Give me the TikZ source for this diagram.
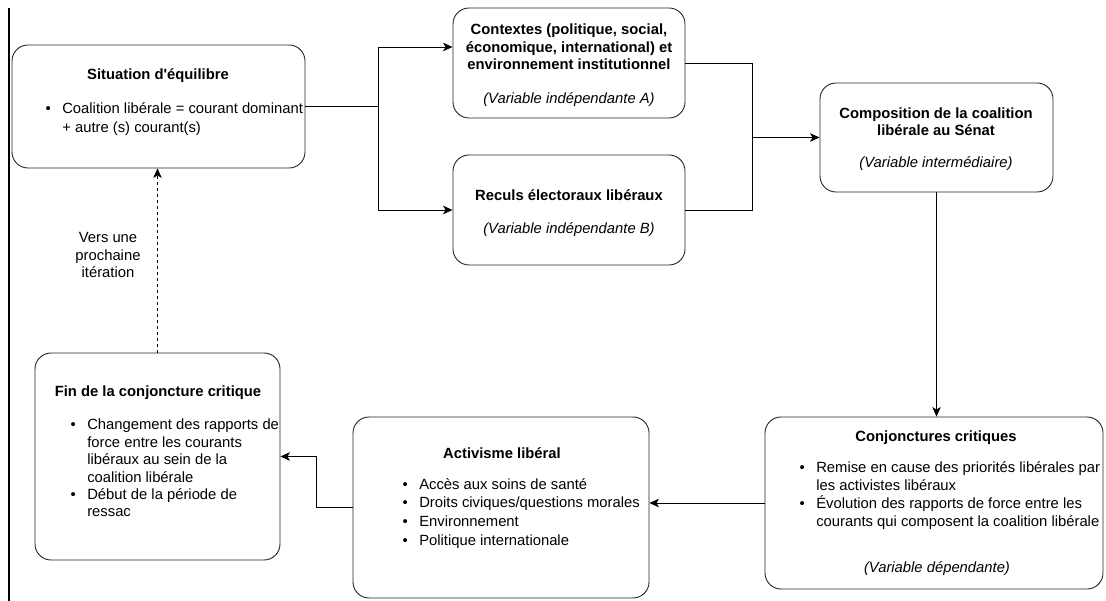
\documentclass[tikz,border=0pt]{standalone}
\usepackage{fontspec}
\setmainfont{Liberation Sans}
\usetikzlibrary{arrows.meta}

% puces des listes
\newcommand{\puce}{\makebox[16.6pt][l]{\textbullet}}
\newcommand{\suite}{\hspace*{16.6pt}}

\begin{document}
\begin{tikzpicture}[x=1pt,y=-1pt,
    boite/.style={draw=black!85, line width=0.9pt, rounded corners=16pt, inner sep=0pt},
    titre/.style={font=\fontsize{14.8}{17.5}\selectfont\bfseries, align=center, inner sep=0pt},
    typevar/.style={font=\fontsize{14.8}{17.5}\selectfont\itshape, inner sep=0pt},
    liste/.style={font=\fontsize{14.8}{#1}\selectfont, align=left, anchor=north west, inner sep=0pt},
    liste/.default=18,
    lien/.style={line width=0.9pt},
    fleche/.style={lien, -{Stealth[length=9.5pt,width=8.5pt,inset=2.5pt]}}]
    \useasboundingbox (0,0) rectangle (1106,601);

    % trait vertical a gauche
    \draw[line width=2.2pt] (9,8) -- (9,601);

    % les boites
    \node[boite, minimum width=293pt, minimum height=123pt] (equil) at (158.5,106.5) {};
    \node[boite, minimum width=232pt, minimum height=110pt] (ctx) at (569,63) {};
    \node[boite, minimum width=232pt, minimum height=110pt] (recul) at (569,210) {};
    \node[boite, minimum width=233pt, minimum height=109pt] (compo) at (936.5,137.5) {};
    \node[boite, minimum width=338pt, minimum height=172pt] (conj) at (934,503) {};
    \node[boite, minimum width=296pt, minimum height=181pt] (activ) at (501,507.5) {};
    \node[boite, minimum width=245pt, minimum height=207pt] (fin) at (157.5,456.5) {};

    % textes
    \node[titre] (equil-t) at (158,76) {Situation d\textquotesingle équilibre};
    \node[liste=19.5] (equil-l) at (45.5,102) {\puce Coalition libérale = courant dominant\\
        \suite + autre (s) courant(s)};

    \node[titre] (ctx-t) at (569,47) {Contextes (politique, social,\\
        économique, international) et\\ environnement institutionnel};
    \node[typevar] (ctx-v) at (569,100) {(Variable indépendante A)};

    \node[titre] (recul-t) at (569,195) {Reculs électoraux libéraux};
    \node[typevar] (recul-v) at (569,230) {(Variable indépendante B)};

    \node[titre] (compo-t) at (936,121.5) {Composition de la coalition\\ libérale au Sénat};
    \node[typevar] (compo-v) at (936,164) {(Variable intermédiaire)};

    \node[titre] (conj-t) at (936,438) {Conjonctures critiques};
    \node[liste] (conj-l) at (799.5,461) {\puce Remise en cause des priorités libérales par\\
        \suite les activistes libéraux\\
        \puce Évolution des rapports de force entre les\\
        \suite courants qui composent la coalition libérale};
    \node[typevar] (conj-v) at (937,569) {(Variable dépendante)};

    \node[titre] (activ-t) at (502,453) {Activisme libéral};
    \node[liste=18.7] (activ-l) at (402.5,478) {\puce Accès aux soins de santé\\
        \puce Droits civiques/questions morales\\
        \puce Environnement\\
        \puce Politique internationale};

    \node[titre] (fin-t) at (158,393) {Fin de la conjoncture critique};
    \node[liste=17.4] (fin-l) at (70.5,419) {\puce Changement des rapports de\\
        \suite force entre les courants\\
        \suite libéraux au sein de la\\
        \suite coalition libérale\\
        \puce Début de la période de\\
        \suite ressac};

    \node[font=\fontsize{14.8}{17.5}\selectfont, align=center, inner sep=0pt] (iter) at (108,255)
        {Vers une\\ prochaine\\ itération};

    % connecteurs
    \coordinate (bifurc) at (378,106.5);
    \coordinate (jonction) at (752,137.5);
    \draw[lien] (equil.east) -- (bifurc);
    \draw[fleche] (bifurc) |- ([yshift=16pt]ctx.west);
    \draw[fleche] (bifurc) |- (recul.west);
    \draw[lien] (ctx.east) -| (jonction);
    \draw[lien] (recul.east) -| (jonction);
    \draw[fleche] (jonction) -- (compo.west);
    \draw[fleche] (compo.south) -- (compo.south |- conj.north);
    \draw[fleche] (conj.west) -- (conj.west -| activ.east);
    \draw[fleche] (activ.west) -- ++(-36,0) |- (fin.east);
    \draw[fleche, dash pattern=on 3pt off 3pt] (fin.north) -- (fin.north |- equil.south);
\end{tikzpicture}
\end{document}
